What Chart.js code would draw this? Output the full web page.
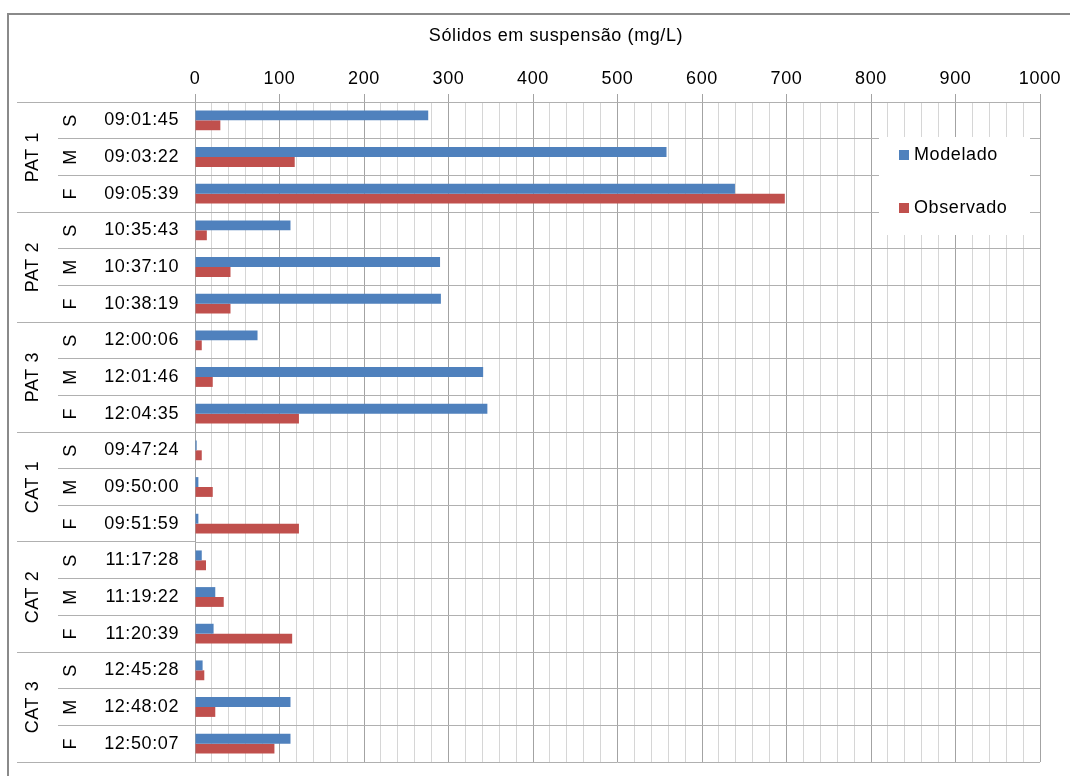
<!DOCTYPE html>
<html>
<head>
<meta charset="utf-8">
<title>Sólidos em suspensão</title>
<script src="https://cdn.jsdelivr.net/npm/chart.js@4"></script>
<style>
  html, body { margin: 0; padding: 0; background: #ffffff; }
  #wrap { width: 1070px; height: 776px; position: relative; }
</style>
</head>
<body>
<div id="wrap"><canvas id="chart" width="1070" height="776"></canvas></div>
<script>
// Sampling points: group, position in the section (S / M / F) and time of sampling
const groups = ['PAT 1', 'PAT 2', 'PAT 3', 'CAT 1', 'CAT 2', 'CAT 3'];
const positions = ['S', 'M', 'F'];
const times = [
  '09:01:45', '09:03:22', '09:05:39',
  '10:35:43', '10:37:10', '10:38:19',
  '12:00:06', '12:01:46', '12:04:35',
  '09:47:24', '09:50:00', '09:51:59',
  '11:17:28', '11:19:22', '11:20:39',
  '12:45:28', '12:48:02', '12:50:07'
];

// Suspended solids (mg/L)
const modelado = [
  276, 558, 639,
  113, 290, 291,
  74, 341, 346,
  2, 4, 4,
  8, 24, 22,
  9, 113, 113
];
const observado = [
  30, 118, 698,
  14, 42, 42,
  8, 21, 123,
  8, 21, 123,
  13, 34, 115,
  11, 24, 94
];

// Value axis labels
const xTickLabels = [0, 100, 200, 300, 400, 500, 600, 700, 800, 900, 1000];
const xMinorStep = 20;

const FONT = "'Liberation Sans', Arial, sans-serif";
const TEXT = '#000000';
const MAJOR_GRID = '#a3a3a3';
const MINOR_GRID = '#d6d6d6';
const ROW_GRID = '#b0b0b0';

function align(p) { return Math.round(p - 0.5) + 0.5; }

// Frame, title, row labels on the left and the legend box
const decorations = {
  id: 'decorations',
  beforeDraw(chart) {
    const ctx = chart.ctx;
    ctx.letterSpacing = '0.6px';
    ctx.save();
    ctx.strokeStyle = '#8a8a8a';
    ctx.lineWidth = 2;
    ctx.beginPath();
    ctx.moveTo(8, chart.height);
    ctx.lineTo(8, 14);
    ctx.lineTo(chart.width, 14);
    ctx.stroke();
    ctx.restore();
  },
  afterDraw(chart) {
    const ctx = chart.ctx;
    const area = chart.chartArea;
    const yScale = chart.scales.y;
    const n = times.length;
    const row = yScale.getPixelForValue(1) - yScale.getPixelForValue(0);

    ctx.save();
    ctx.letterSpacing = '0.6px';

    // Title
    ctx.fillStyle = TEXT;
    ctx.font = '18px ' + FONT;
    ctx.textAlign = 'center';
    ctx.textBaseline = 'middle';
    ctx.fillText('Sólidos em suspensão (mg/L)', 556, 36);

    // Row separators extended into the label columns
    ctx.strokeStyle = ROW_GRID;
    ctx.lineWidth = 1;
    for (let i = 0; i <= n; i++) {
      const y = align(i < n ? yScale.getPixelForValue(i) - row / 2
                            : yScale.getPixelForValue(n - 1) + row / 2);
      const x0 = (i % positions.length === 0) ? 17 : 58;
      ctx.beginPath();
      ctx.moveTo(x0, y);
      ctx.lineTo(area.left, y);
      ctx.stroke();
    }

    // Rotated position and group labels
    ctx.fillStyle = TEXT;
    ctx.textAlign = 'center';
    ctx.textBaseline = 'middle';
    for (let i = 0; i < n; i++) {
      const y = yScale.getPixelForValue(i);
      ctx.save();
      ctx.translate(71, y);
      ctx.rotate(-Math.PI / 2);
      ctx.fillText(positions[i % positions.length], 0, 0);
      ctx.restore();
    }
    groups.forEach((g, gi) => {
      const mid = gi * positions.length + (positions.length - 1) / 2;
      const y = (yScale.getPixelForValue(Math.floor(mid)) + yScale.getPixelForValue(Math.ceil(mid))) / 2;
      ctx.save();
      ctx.translate(33, y);
      ctx.rotate(-Math.PI / 2);
      ctx.fillText(g, 0, 0);
      ctx.restore();
    });

    // Legend
    const box = { left: area.right - 161, top: area.top + 35, width: 151, height: 98 };
    ctx.fillStyle = '#ffffff';
    ctx.fillRect(box.left, box.top, box.width, box.height);
    ctx.textAlign = 'left';
    ctx.textBaseline = 'middle';
    chart.data.datasets.forEach((ds, i) => {
      const cy = box.top + 18 + i * 53;
      ctx.fillStyle = ds.backgroundColor;
      ctx.fillRect(box.left + 20, cy - 5, 10, 10);
      ctx.fillStyle = TEXT;
      ctx.fillText(ds.label, box.left + 35, cy);
    });
    ctx.restore();
  }
};

new Chart(document.getElementById('chart'), {
  type: 'bar',
  data: {
    labels: times,
    datasets: [
      { label: 'Modelado', data: modelado, backgroundColor: '#4f81bd', borderWidth: 0 },
      { label: 'Observado', data: observado, backgroundColor: '#c0504d', borderWidth: 0 }
    ]
  },
  options: {
    indexAxis: 'y',
    responsive: false,
    animation: false,
    events: [],
    layout: { padding: { left: 0, right: 30, top: 0, bottom: 14 } },
    datasets: { bar: { categoryPercentage: 0.54, barPercentage: 1.0 } },
    plugins: {
      legend: { display: false },
      title: { display: false },
      tooltip: { enabled: false }
    },
    scales: {
      x: {
        position: 'top',
        min: xTickLabels[0],
        max: xTickLabels[xTickLabels.length - 1],
        afterFit(scale) {
          scale.height = 102;
          scale.paddingLeft = 0;
          scale.paddingRight = 0;
        },
        ticks: {
          stepSize: xMinorStep,
          autoSkip: false,
          maxRotation: 0,
          padding: 4,
          color: TEXT,
          font: { family: FONT, size: 18 },
          callback: (v) => xTickLabels.includes(Math.round(v)) ? String(Math.round(v)) : ''
        },
        grid: {
          color: (c) => (c.tick && xTickLabels.includes(Math.round(c.tick.value))) ? MAJOR_GRID : MINOR_GRID,
          tickColor: (c) => (c.tick && xTickLabels.includes(Math.round(c.tick.value))) ? MAJOR_GRID : 'rgba(0,0,0,0)',
          tickLength: 8,
          lineWidth: 1
        },
        border: { display: false }
      },
      y: {
        afterFit(scale) {
          scale.width = 195;
          scale.paddingTop = 0;
          scale.paddingBottom = 0;
        },
        ticks: {
          padding: 16,
          color: TEXT,
          font: { family: FONT, size: 18 }
        },
        grid: {
          color: ROW_GRID,
          lineWidth: 1,
          drawTicks: false,
          offset: true
        },
        border: { display: false }
      }
    }
  },
  plugins: [decorations]
});
</script>
</body>
</html>
